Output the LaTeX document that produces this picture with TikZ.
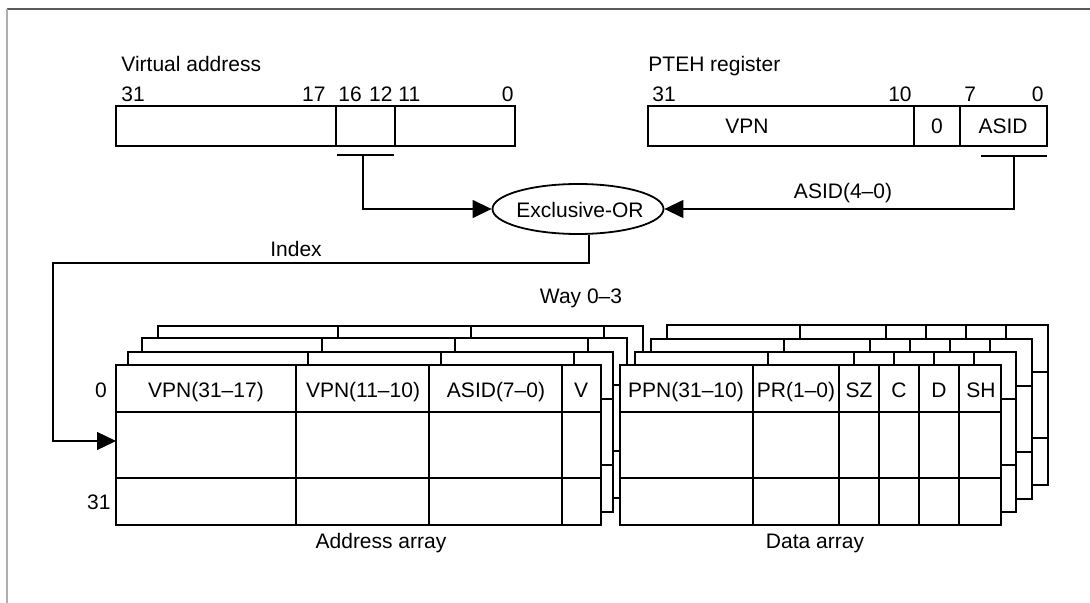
\documentclass[tikz,border=0pt]{standalone}
\usepackage{fontspec}
\setmainfont{Liberation Sans}
\usetikzlibrary{arrows.meta,shapes.geometric}

\definecolor{framedark}{RGB}{90,90,90}
\definecolor{framelight}{RGB}{175,175,175}

\tikzset{
  every node/.style={font=\fontsize{10.5}{12.6}\selectfont, inner sep=0pt},
  wire/.style={line width=0.65pt, black},
  arr/.style={wire, -{Triangle[length=9.5pt,width=9pt]}},
  tab/.style={line width=0.65pt, black, fill=white},
  lbl/.style={anchor=base},
  lblw/.style={anchor=base west},
  lble/.style={anchor=base east},
}

\begin{document}
\begin{tikzpicture}[x=0.5pt,y=-0.5pt]
\useasboundingbox (0,0) rectangle (1090,603);

% outer frame (top and left edges)
\draw[framedark, line width=1pt] (7,9) -- (1090,9);
\draw[framelight, line width=1.3pt] (7,9) -- (7,603);

% ---- Virtual address register ----
\node[lblw] (valbl) at (121,72) {Virtual address};
\draw[wire] (116,106) rectangle (515,146);
\draw[wire] (336,106) -- (336,146) (395,106) -- (395,146);
\node[lblw] (vb31) at (121,102) {31};
\node[lble] (vb17) at (326,102) {17};
\node[lblw] (vb16) at (338,102) {16};
\node[lble] (vb12) at (393,102) {12};
\node[lblw] (vb11) at (398,102) {11};
\node[lble] (vb0)  at (514,102) {0};
\draw[wire] (337,155) -- (394,155);
\coordinate (vbar) at (363,155);

% ---- PTEH register ----
\node[lblw] (ptlbl) at (648,72) {PTEH register};
\draw[wire] (648,106) rectangle (1047,146);
\draw[wire] (914,106) -- (914,146) (960,106) -- (960,146);
\node[lblw] (pb31) at (652,102) {31};
\node[lble] (pb10) at (912,102) {10};
\node[lblw] (pb7)  at (964,102) {7};
\node[lble] (pb0)  at (1044,102) {0};
\node[lbl] (pvpn)  at (747,134) {VPN};
\node[lbl] (pzero) at (937,134) {0};
\node[lbl] (pasid) at (1003,134) {ASID};
\draw[wire] (981,156) -- (1047,156);
\coordinate (pbar) at (1014,156);

% ---- Exclusive-OR ----
\node[draw, ellipse, line width=0.9pt, minimum width=85.5pt, minimum height=25pt] (xor) at (578,209) {};
\node (xorlbl) at (580,210) {Exclusive-OR};

\draw[arr] (vbar) |- (xor.west);
\draw[arr] (pbar) |- (xor.east);
\node[lbl] (asidlbl) at (843,199) {ASID(4–0)};

% ---- Address array (four ways, back to front) ----
\foreach \dx/\dy in {42/-39, 26/-27, 12/-13, 0/0} {
  \begin{scope}[shift={(\dx,\dy)}]
    \filldraw[tab] (116,365) rectangle (601,525);
    \draw[wire] (116,412) -- (601,412) (116,478) -- (601,478);
    \foreach \c in {296,429,562} \draw[wire] (\c,365) -- (\c,525);
  \end{scope}
}
\node[lbl] (a1) at (206,398) {VPN(31–17)};
\node[lbl] (a2) at (363,398) {VPN(11–10)};
\node[lbl] (a3) at (496,398) {ASID(7–0)};
\node[lbl] (a4) at (581,398) {V};
\node[lbl] (row0)  at (101,398) {0};
\node[lble] (row31) at (111,509) {31};
\coordinate (addrin) at (116,441);
\node[lbl] (addrlbl) at (381,548) {Address array};

% ---- Data array (four ways, back to front) ----
\foreach \dx/\dy in {47/-40, 31/-26, 15/-13, 0/0} {
  \begin{scope}[shift={(\dx,\dy)}]
    \filldraw[tab] (620,365) rectangle (1001,525);
    \draw[wire] (620,412) -- (1001,412) (620,478) -- (1001,478);
    \foreach \c in {753,839,879,919,959} \draw[wire] (\c,365) -- (\c,525);
  \end{scope}
}
\node[lbl] (d1) at (686,398) {PPN(31–10)};
\node[lbl] (d2) at (796,398) {PR(1–0)};
\node[lbl] (d3) at (859,398) {SZ};
\node[lbl] (d4) at (899,398) {C};
\node[lbl] (d5) at (939,398) {D};
\node[lbl] (d6) at (981,398) {SH};
\node[lbl] (datalbl) at (815,548) {Data array};

\node[lbl] (waylbl) at (581,304) {Way 0–3};

% ---- Index path ----
\coordinate (turn) at (53,263);
\draw[arr] ([xshift=5.5pt]xor.south) |- (turn) |- (addrin);
\node[lbl] (idxlbl) at (296,257) {Index};

\end{tikzpicture}
\end{document}
